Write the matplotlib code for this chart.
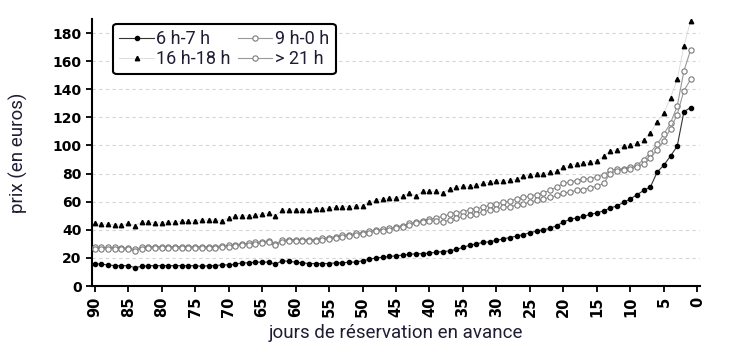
import numpy as np
import matplotlib.pyplot as plt

# jours avant le départ (90 -> 1)
jours = np.arange(90, 0, -1)

prix_6_7 = [16, 15.5, 15, 14.5, 14.5, 14.5, 13, 14, 14.5, 14.5,
            14.5, 14.5, 14.5, 14.5, 14.5, 14.5, 14, 14.5, 14.5, 15,
            15, 15.5, 16.5, 16.5, 17, 17, 17, 15.5, 18, 17.5,
            17, 16.5, 16, 16, 16, 16, 16.5, 16.5, 17, 17,
            18, 19, 20, 20.5, 21, 21.5, 22, 22.5, 23, 23,
            23.5, 24, 24.5, 25, 26, 27.5, 29, 30, 31, 31.5,
            32.5, 33.5, 34.5, 35.5, 36.5, 38, 39, 40, 41, 43,
            45.5, 47.5, 48.5, 49.5, 51, 52, 53.5, 55.5, 57, 59.5,
            62, 65, 68, 70.5, 81, 86, 92.5, 99.5, 124, 127]

prix_9_0 = [27.5, 27.5, 27.5, 27.5, 27, 27, 26, 27.5, 28, 28,
            28, 28, 28, 28, 28, 28, 28, 28, 28, 28.5,
            29, 29.5, 30, 30.5, 31, 31.5, 32, 30, 32.5, 33,
            33, 33, 33, 33, 34, 34.5, 35, 36, 36.5, 37.5,
            38, 39, 40, 40.5, 41, 42, 43, 44.5, 45.5, 46.5,
            47.5, 48.5, 49.5, 51, 52, 53, 54, 55, 56, 57.5,
            58.5, 59.5, 60.5, 62, 63, 64, 65, 66.5, 68, 70.5,
            73, 74, 75, 76, 76.5, 77.5, 79, 82.5, 83, 83.5,
            84.5, 86, 90, 95, 101, 108, 116, 128, 153, 168]

prix_16_18 = [44.5, 44, 44, 43.5, 43.5, 44.5, 43, 45.5, 45.5, 45,
              45, 45.5, 45.5, 46, 46, 46.5, 47, 47, 47, 46.5,
              48.5, 49.5, 50, 50, 50.5, 51, 52, 50, 54, 54,
              54, 54, 54, 54.5, 55, 55.5, 56, 56.5, 56.5, 57,
              57, 59.5, 61, 62, 62.5, 62.5, 64, 66, 64, 67.5,
              67.5, 67.5, 66.5, 69, 70.5, 71, 71, 72, 73, 74,
              74.5, 75, 75.5, 76, 78, 79, 79.5, 80, 81, 81.5,
              85, 86, 87, 87.5, 88, 89, 92.5, 96, 97, 99.5,
              100.5, 102, 104, 108.8, 117, 123, 134, 147, 170.7, 188.7]

prix_21 = [26.5, 26.5, 26.5, 26.5, 26, 26, 25, 26.5, 27, 27,
           27, 27, 27, 27, 27, 27, 27, 27, 27, 27.5,
           28, 28.5, 29, 29.5, 30, 30.5, 31, 29, 31.5, 32,
           32, 32, 32, 32, 33, 33.5, 34, 35, 35.5, 36.5,
           37, 38, 39, 39.5, 40, 41, 42, 43.5, 44.5, 45.5,
           46.5, 46, 45.5, 47, 48.5, 49.5, 50.5, 51.5, 53, 54,
           55, 56, 56.5, 57.5, 58.5, 59.5, 61, 62, 63, 64.5,
           66, 67, 68, 68.5, 70, 71, 73, 80, 82, 82.5,
           83.5, 85, 87, 91, 97, 103, 112, 122, 139, 147]

txt_col = '#1f1d33'

fig = plt.figure(figsize=(7.39, 3.56), dpi=100)
ax = fig.add_axes([0.1245, 0.1966, 0.8227, 0.75])

ax.plot(jours, prix_16_18, color='#d8d8d8', lw=0.6, marker='^', ms=3.2,
        mfc='black', mec='black', label='16 h-18 h', zorder=3)
ax.plot(jours, prix_9_0, color='#999999', lw=0.8, marker='o', ms=3.8,
        mfc='white', mec='#7a7a7a', mew=0.8, label='9 h-0 h', zorder=4)
ax.plot(jours, prix_21, color='#999999', lw=0.8, marker='o', ms=3.8,
        mfc='white', mec='#7a7a7a', mew=0.8, label='> 21 h', zorder=4)
ax.plot(jours, prix_6_7, color='#333333', lw=0.8, marker='o', ms=3.0,
        mfc='black', mec='black', label='6 h-7 h', zorder=5)

ax.set_xlim(90.4, -0.4)
ax.set_ylim(0, 190)
ax.set_xticks(range(90, -1, -5))
ax.set_yticks(range(0, 181, 20))
for v in range(20, 181, 20):
    ax.axhline(v, color='#d5d5d5', lw=0.8, ls=(0, (3, 3)), zorder=1)

for s in ['top', 'right']:
    ax.spines[s].set_visible(False)
for s in ['left', 'bottom']:
    ax.spines[s].set_linewidth(1.5)
ax.tick_params(width=1.3, length=4, direction='out')
for t in ax.get_yticklabels():
    t.set_fontweight('bold')
    t.set_fontsize(10)
for t in ax.get_xticklabels():
    t.set_fontweight('bold')
    t.set_fontsize(10.5)
    t.set_rotation(90)

ax.set_xlabel('jours de réservation en avance', family='Roboto', fontsize=13.5,
              color=txt_col, labelpad=5)
ax.set_ylabel('prix (en euros)', family='Roboto', fontsize=13.5,
              color=txt_col)
ax.yaxis.set_label_coords(-0.106, 0.5)

h, l = ax.get_legend_handles_labels()
order = [3, 0, 1, 2]
leg = ax.legend([h[i] for i in order], [l[i] for i in order], ncol=2,
                loc='upper left', bbox_to_anchor=(0.153, 0.933),
                bbox_transform=fig.transFigure, borderaxespad=0,
                handlelength=1.9, handletextpad=0.15, columnspacing=0.4,
                labelspacing=0.1, borderpad=0.35, fancybox=True,
                prop={'family': 'Roboto', 'size': 13})
leg.get_frame().set_edgecolor('black')
leg.get_frame().set_linewidth(1.5)
leg.get_frame().set_alpha(1)
for t in leg.get_texts():
    t.set_color(txt_col)

fig.savefig('out.png', dpi=100)
